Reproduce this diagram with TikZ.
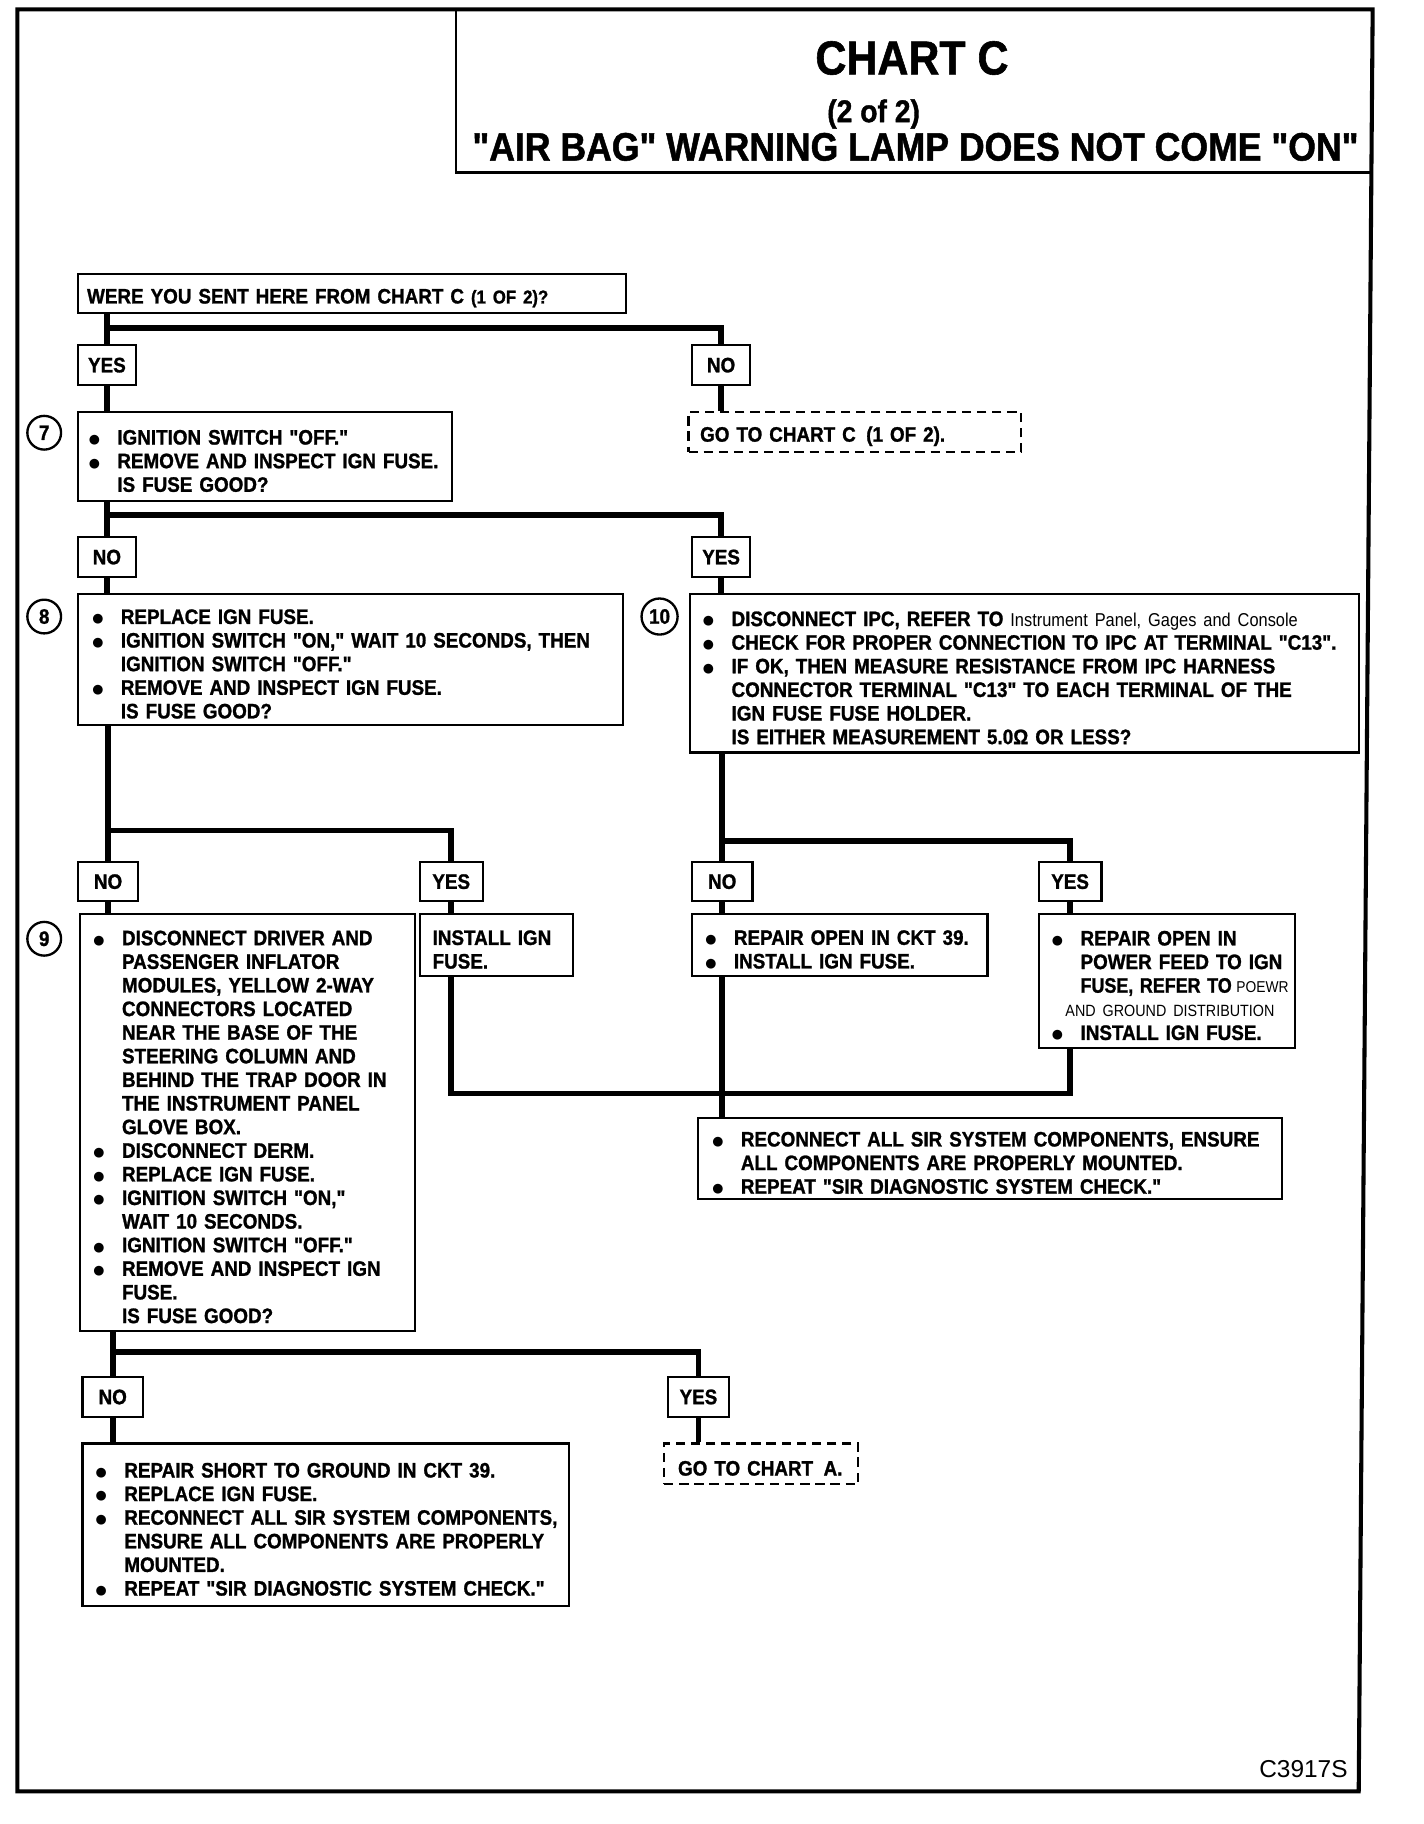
\documentclass[tikz,border=0pt]{standalone}
\usepackage{fontspec}
\usepackage{graphicx}
\newfontfamily\bodyf{Liberation Sans}[FakeStretch=0.9, BoldFeatures={FakeBold=1.2}]
\newfontfamily\smallf{Liberation Sans}[FakeStretch=0.88]
\newfontfamily\codef{Liberation Sans}
\newfontfamily\symf{DejaVu Sans}
\newlength\padlen
\newcommand\bulg{\llap{\raisebox{1pt}{\symf\mdseries\fontsize{11}{12}\selectfont ●}\hspace{15pt}}}
\newcommand\Li[1]{\par\noindent\hbox{\hspace*{\padlen}#1}\par}
\newcommand\Lb[1]{\par\noindent\hbox{\hspace*{\padlen}\bulg#1}\par}
\newcommand\sm[2]{{\smallf\mdseries\fontsize{#1}{18}\selectfont #2}}
\tikzset{
  conn/.style={line width=5pt},
  bodyfont/.style={font=\bodyf\bfseries\fontsize{18}{20.3}\selectfont},
  box/.style={draw, line width=1.8pt, anchor=north west, inner sep=0pt, align=left, bodyfont},
  dbox/.style={box, dash pattern=on 8pt off 5pt},
  yn/.style={draw, line width=1.8pt, anchor=north west, inner sep=0pt, minimum height=34, bodyfont},
  num/.style={circle, draw, line width=2pt, minimum size=29, inner sep=0pt, bodyfont},
  lpad/.style={execute at begin node={\setlength{\padlen}{#1}}}
}
\begin{document}
\begin{tikzpicture}[x=1pt,y=-1pt]
\useasboundingbox (0,0) rectangle (1224,1568);
% outer frame and title box
\draw[line width=3.5pt] (15,8) -- (1180,8) -- (1168,1540) -- (15,1540) -- cycle;
\draw[line width=2.5pt] (392,8) -- (392,148) -- (1179,148);
\node[font=\bodyf\bfseries\fontsize{41}{44}\selectfont, anchor=base] (t1) at (784,64) {CHART C};
\node[font=\bodyf\bfseries\fontsize{27}{30}\selectfont, anchor=base] (t2) at (751,105) {(2 of 2)};
\node[font=\bodyf\bfseries\fontsize{34}{36}\selectfont, anchor=base] (t3) at (787,138) {"AIR BAG" WARNING LAMP DOES NOT COME "ON"};

% junction coordinates
\coordinate (j1) at (0,282);
\coordinate (j2) at (0,443);
\coordinate (j3) at (0,714);
\coordinate (j4) at (0,723);
\coordinate (j5) at (0,940);
\coordinate (j6) at (0,1162);

% nodes
\node[box, lpad=8pt, minimum width=471, text width=471, minimum height=33] (q) at (66,235)
  {\Li{WERE YOU SENT HERE FROM CHART C {\fontsize{16}{18}\selectfont(1 OF 2)?}}};
\node[yn, minimum width=50] (y1) at (66,296) {YES};
\node[yn, minimum width=50] (n1) at (594,296) {NO};
\node[box, lpad=34pt, minimum width=322, text width=322, minimum height=77] (b7) at (66,353)
  {\Lb{IGNITION SWITCH "OFF."}\Lb{REMOVE AND INSPECT IGN FUSE.}\Li{IS FUSE GOOD?}};
\node[num] (c7) at (38,372) {7};
\node[dbox, lpad=10pt, minimum width=286, text width=286, minimum height=35] (g1) at (591,353)
  {\Li{GO TO CHART C\, (1 OF 2).}};
\node[yn, minimum width=50] (n2) at (66,461) {NO};
\node[yn, minimum width=50] (y2) at (594,461) {YES};
\node[box, lpad=37pt, minimum width=469, text width=469, minimum height=112] (b8) at (66,510)
  {\Lb{REPLACE IGN FUSE.}\Lb{IGNITION SWITCH "ON," WAIT 10 SECONDS, THEN}\Li{IGNITION SWITCH "OFF."}%
   \Lb{REMOVE AND INSPECT IGN FUSE.}\Li{IS FUSE GOOD?}};
\node[num] (c8) at (38,530) {8};
\node[box, lpad=36pt, minimum width=575, text width=575, minimum height=136] (b10) at (592,510)
  {\Lb{DISCONNECT IPC, REFER TO \sm{16}{Instrument Panel, Gages and Console}}%
   \Lb{CHECK FOR PROPER CONNECTION TO IPC AT TERMINAL "C13".}%
   \Lb{IF OK, THEN MEASURE RESISTANCE FROM IPC HARNESS}%
   \Li{CONNECTOR TERMINAL "C13" TO EACH TERMINAL OF THE}%
   \Li{IGN FUSE FUSE HOLDER.}%
   \Li{IS EITHER MEASUREMENT 5.0Ω OR LESS?}};
\node[num, minimum size=31] (c10) at (567,530) {10};
\node[yn, minimum width=52] (n3) at (66,740) {NO};
\node[yn, minimum width=54] (y3) at (360,740) {YES};
\node[box, lpad=36pt, minimum width=288, text width=288, minimum height=358] (b9) at (68,785)
  {\Lb{DISCONNECT DRIVER AND}\Li{PASSENGER INFLATOR}\Li{MODULES, YELLOW 2-WAY}\Li{CONNECTORS LOCATED}%
   \Li{NEAR THE BASE OF THE}\Li{STEERING COLUMN AND}\Li{BEHIND THE TRAP DOOR IN}\Li{THE INSTRUMENT PANEL}%
   \Li{GLOVE BOX.}\Lb{DISCONNECT DERM.}\Lb{REPLACE IGN FUSE.}\Lb{IGNITION SWITCH "ON,"}%
   \Li{WAIT 10 SECONDS.}\Lb{IGNITION SWITCH "OFF."}\Lb{REMOVE AND INSPECT IGN}\Li{FUSE.}\Li{IS FUSE GOOD?}};
\node[num] (c9) at (38,807) {9};
\node[box, lpad=11pt, minimum width=132, text width=132, minimum height=53] (inst) at (360,785)
  {\Li{INSTALL IGN}\Li{FUSE.}};
\node[yn, minimum width=52] (n4) at (594,740) {NO};
\node[yn, minimum width=54] (y4) at (892,740) {YES};
\node[box, lpad=36pt, minimum width=254, text width=254, minimum height=53] (rep) at (594,785)
  {\Lb{REPAIR OPEN IN CKT 39.}\Lb{INSTALL IGN FUSE.}};
\node[box, lpad=36pt, minimum width=220, text width=220, minimum height=115] (pow) at (892,785)
  {\Lb{REPAIR OPEN IN}\Li{POWER FEED TO IGN}\Li{\scalebox{0.95}[1]{FUSE, REFER TO}\hspace{-2pt} \sm{13.5}{POEWR}}%
   \Li{\hspace*{-13pt}\sm{14}{AND GROUND DISTRIBUTION}}\Lb{INSTALL IGN FUSE.}};
\node[box, lpad=37pt, minimum width=502, text width=502, minimum height=70] (rec) at (599,960)
  {\Lb{RECONNECT ALL SIR SYSTEM COMPONENTS, ENSURE}\Li{ALL COMPONENTS ARE PROPERLY MOUNTED.}%
   \Lb{REPEAT "SIR DIAGNOSTIC SYSTEM CHECK."}};
\node[yn, minimum width=52] (n5) at (70,1183) {NO};
\node[yn, minimum width=53] (y5) at (573,1183) {YES};
\node[box, lpad=36pt, minimum width=418, text width=418, minimum height=140] (fin) at (70,1240)
  {\Lb{REPAIR SHORT TO GROUND IN CKT 39.}\Lb{REPLACE IGN FUSE.}\Lb{RECONNECT ALL SIR SYSTEM COMPONENTS,}%
   \Li{ENSURE ALL COMPONENTS ARE PROPERLY}\Li{MOUNTED.}\Lb{REPEAT "SIR DIAGNOSTIC SYSTEM CHECK."}};
\node[dbox, lpad=12pt, minimum width=167, text width=167, minimum height=35] (g2) at (570,1240)
  {\Li{GO TO CHART\, A.}};
\node[font=\codef\fontsize{21}{24}\selectfont, anchor=base east] (code) at (1162,1528) {C3917S};

% connectors
\draw[conn] (q.south -| y1) -- (y1.north);
\draw[conn] (y1 |- j1) -| (n1.north);
\draw[conn] (y1.south) -- (b7.north -| y1);
\draw[conn] (n1.south) -- (g1.north -| n1);

\draw[conn] (b7.south -| n2) -- (n2.north);
\draw[conn] (n2 |- j2) -| (y2.north);
\draw[conn] (n2.south) -- (b8.north -| n2);
\draw[conn] (y2.south) -- (b10.north -| y2);

\draw[conn] (b8.south -| n3) -- (n3.north);
\draw[conn] (n3 |- j3) -| (y3.north);
\draw[conn] (n3.south) -- (b9.north -| n3);
\draw[conn] (y3.south) -- (inst.north -| y3);

\draw[conn] (b10.south -| n4) -- (n4.north);
\draw[conn] (n4 |- j4) -| (y4.north);
\draw[conn] (n4.south) -- (rep.north -| n4);
\draw[conn] (y4.south) -- (pow.north -| y4);

\draw[conn] (inst.south -| y3) -- (y3 |- j5) -- (y4 |- j5) -- (pow.south -| y4);
\draw[conn] (rep.south -| n4) -- (rec.north -| n4);

\draw[conn] (b9.south -| n5) -- (n5.north);
\draw[conn] (n5 |- j6) -| (y5.north);
\draw[conn] (n5.south) -- (fin.north -| n5);
\draw[conn] (y5.south) -- (g2.north -| y5);
\end{tikzpicture}
\end{document}
